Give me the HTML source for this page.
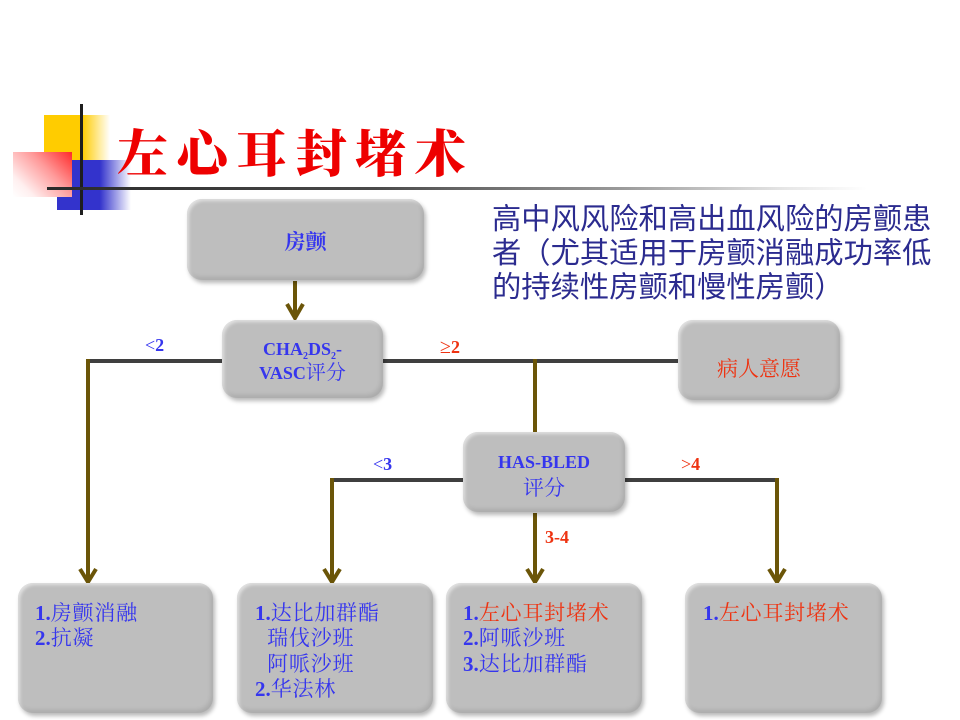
<!DOCTYPE html>
<html><head><meta charset="utf-8">
<style>
html,body{margin:0;padding:0;background:#fff;}
body{width:960px;height:720px;position:relative;overflow:hidden;font-family:"Liberation Serif","Noto Serif CJK SC",serif;}
.abs{position:absolute;}
.box{position:absolute;background:#bebebe;border-radius:15px;
box-shadow:2px 3px 4px rgba(0,0,0,0.28), inset -2px -3px 4px rgba(0,0,0,0.10), inset 2px 2px 3px rgba(255,255,255,0.55);}
.blue{color:#3636ee;}
.red{color:#ee3311;}
.ctr{display:flex;align-items:center;justify-content:center;text-align:center;}
.lbl{position:absolute;font-family:"Liberation Serif",serif;font-weight:bold;font-size:18px;line-height:18px;}
.lt{font-weight:normal;}
.list{position:absolute;font-family:"Liberation Serif","Noto Serif CJK SC",serif;font-size:21px;line-height:25.3px;letter-spacing:0.8px;color:#3636ee;white-space:pre;}
.list b{font-weight:bold;letter-spacing:0;}
</style></head><body>

<!-- decorative squares -->
<div class="abs" style="left:44px;top:115px;width:66px;height:45px;background:linear-gradient(to right,#ffcc00 0%,#ffcc00 58%,#ffffff 100%);"></div>
<div class="abs" style="left:57px;top:160px;width:74px;height:50px;background:linear-gradient(to right,#3333cc 0%,#3333cc 58%,#ffffff 100%);"></div>
<div class="abs" style="left:13px;top:152px;width:59px;height:45px;background:linear-gradient(225deg,#ff2a2a 0%,#ff9a9a 40%,#fff0f0 80%,#ffffff 100%);"></div>
<div class="abs" style="left:80px;top:104px;width:3px;height:111px;background:#1e1e1e;"></div>
<div class="abs" style="left:47px;top:187px;width:820px;height:3px;background:linear-gradient(to right,#2a2a2a 0%,#4a4a4a 40%,#9a9a9a 70%,#e6e6e6 90%,#ffffff 100%);"></div>

<!-- title -->
<div class="abs" style="left:117px;top:118px;font-family:'Noto Serif CJK SC','Noto Sans CJK SC',serif;font-weight:900;font-size:51px;line-height:64px;letter-spacing:8.5px;color:#ee0000;white-space:nowrap;">左心耳封堵术</div>

<!-- top-right text -->
<div class="abs" style="left:492px;top:203px;font-family:'Liberation Sans','Noto Sans CJK SC',sans-serif;font-size:29.3px;line-height:34px;color:#2b2b8f;white-space:nowrap;">高中风风险和高出血风险的房颤患<br>者（尤其适用于房颤消融成功率低<br>的持续性房颤和慢性房颤）</div>

<!-- connectors -->
<svg class="abs" style="left:0;top:0;" width="960" height="720">
<g stroke="#3f3f3f" stroke-width="4" fill="none">
<line x1="86" y1="361" x2="223" y2="361"/>
<line x1="383" y1="361" x2="679" y2="361"/>
<line x1="330" y1="480" x2="463" y2="480"/>
<line x1="625" y1="480" x2="779" y2="480"/>
</g>
<g stroke="#6b5508" stroke-width="4" fill="none" stroke-linecap="butt">
<line x1="295" y1="281" x2="295" y2="316"/>
<line x1="88" y1="359" x2="88" y2="580"/>
<line x1="332" y1="478" x2="332" y2="580"/>
<line x1="535" y1="359" x2="535" y2="432"/>
<line x1="535" y1="513" x2="535" y2="580"/>
<line x1="777" y1="478" x2="777" y2="580"/>
</g>
<g stroke="#6b5508" stroke-width="4" fill="none" stroke-linejoin="miter">
<polyline points="287,304 295,318 303,304"/>
<polyline points="80,569 88,582 96,569"/>
<polyline points="324,569 332,582 340,569"/>
<polyline points="527,569 535,582 543,569"/>
<polyline points="769,569 777,582 785,569"/>
</g>
</svg>

<!-- boxes -->
<div class="box ctr" style="left:187px;top:199px;width:237px;height:81px;">
<span class="blue" style="font-family:'Noto Serif CJK SC',serif;font-weight:bold;font-size:21px;margin-top:2px;">房颤</span></div>

<div class="box" style="left:222px;top:320px;width:161px;height:78px;">
<div class="abs blue" style="left:0;top:17px;width:161px;text-align:center;font-weight:bold;font-size:18px;line-height:24px;">CHA<span style="font-size:10px;position:relative;top:4px;line-height:0;">2</span>DS<span style="font-size:10px;position:relative;top:4px;line-height:0;">2</span>-<br>VASC<span style="font-family:'Noto Serif CJK SC',serif;font-weight:normal;font-size:20px;line-height:20px;">评分</span></div>
</div>

<div class="box" style="left:678px;top:320px;width:162px;height:80px;">
<div class="abs red" style="left:0;top:36px;width:162px;text-align:center;font-family:'Noto Serif CJK SC',serif;font-size:21px;line-height:24px;">病人意愿</div></div>

<div class="box" style="left:463px;top:432px;width:162px;height:80px;">
<div class="abs blue" style="left:0;top:18px;width:162px;text-align:center;font-weight:bold;font-size:18px;line-height:25px;">HAS-BLED<br><span style="font-family:'Noto Serif CJK SC',serif;font-weight:normal;font-size:21px;">评分</span></div>
</div>

<div class="box" style="left:18px;top:583px;width:195px;height:130px;"></div>
<div class="box" style="left:237px;top:583px;width:196px;height:130px;"></div>
<div class="box" style="left:446px;top:583px;width:196px;height:130px;"></div>
<div class="box" style="left:685px;top:583px;width:197px;height:130px;"></div>

<div class="list" style="left:35px;top:601px;"><b>1.</b>房颤消融
<b>2.</b>抗凝</div>
<div class="list" style="left:255px;top:601px;"><b>1.</b>达比加群酯
  瑞伐沙班
  阿哌沙班
<b>2.</b>华法林</div>
<div class="list" style="left:463px;top:601px;"><b>1.</b><span class="red">左心耳封堵术</span>
<b>2.</b>阿哌沙班
<b>3.</b>达比加群酯</div>
<div class="list" style="left:703px;top:601px;"><b>1.</b><span class="red">左心耳封堵术</span></div>

<!-- labels -->
<div class="lbl blue" style="left:145px;top:336px;"><span class="lt">&lt;</span>2</div>
<div class="lbl red" style="left:440px;top:338px;"><span class="lt" style="font-size:20px;">≥</span>2</div>
<div class="lbl blue" style="left:373px;top:455px;"><span class="lt">&lt;</span>3</div>
<div class="lbl red" style="left:681px;top:455px;"><span class="lt">&gt;</span>4</div>
<div class="lbl red" style="left:545px;top:528px;">3-4</div>

</body></html>
